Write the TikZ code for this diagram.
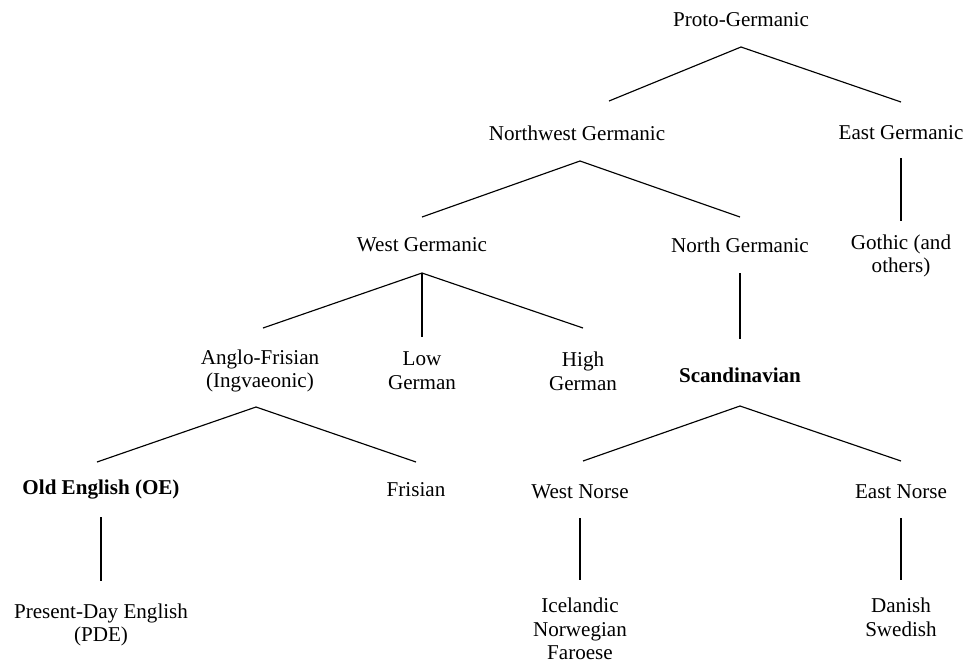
\documentclass[tikz,border=0pt]{standalone}
\usepackage{fontspec}
\setmainfont{Liberation Serif}
\usepackage{tikz}
\usetikzlibrary{positioning}

\begin{document}
\begin{tikzpicture}[font=\fontsize{12}{13.5}\selectfont, line width=0.65pt,
                    lang/.style={align=center, inner sep=1pt}]
      \useasboundingbox (0, 0) rectangle (19.28, -13.24);

      \node[lang]  (PG)  at (14.82,  -0.40)   {Proto-Germanic};

      \node[lang]  (NWG) at (11.54,  -2.66)   {Northwest Germanic};
      \node[lang]  (EG)  at (18.02,  -2.66)   {East Germanic};

      \node[lang]  (WG)  at ( 8.44,  -4.90)   {West Germanic};
      \node[lang]  (NG)  at (14.80,  -4.90)   {North Germanic};
      \node[lang]  (GO)  at (18.02,  -5.12)   {Gothic (and \\ others)};

      \node[lang]  (AF)  at ( 5.20,  -7.42)   {Anglo-Frisian \\ (Ingvaeonic)};
      \node[lang]  (LG)  at ( 8.44,  -7.42)   {Low \\ German};
      \node[lang]  (HG)  at (11.66,  -7.42)   {High \\ German};
      \node[lang]  (SC)  at (14.80,  -7.50)   {\textbf{Scandinavian}};

      \node[lang]  (OE)  at ( 2.02,  -9.80)   {\textbf{Old English (OE)}};
      \node[lang]  (FR)  at ( 8.32,  -9.80)   {Frisian};
      \node[lang]  (WN)  at (11.60,  -9.84)   {West Norse};
      \node[lang]  (EN)  at (18.02,  -9.84)   {East Norse};

      \node[lang]  (PDE) at ( 2.02, -12.50)   {Present-Day English \\ (PDE)};
      \node[lang]  (ICE) at (11.60, -12.58)   {Icelandic \\ Norwegian \\ Faroese};
      \node[lang]  (DS)  at (18.02, -12.34)   {Danish \\ Swedish};

      \draw[-]  ([yshift=-0.54cm]PG.center)  -- ([xshift=0.64cm, yshift=0.64cm]NWG.center);
      \draw[-]  ([yshift=-0.54cm]PG.center)  -- ([yshift=0.62cm]EG.center);

      \draw[-]  ([xshift=0.06cm, yshift=-0.56cm]NWG.center) -- ([yshift=0.56cm]WG.center);
      \draw[-]  ([xshift=0.06cm, yshift=-0.56cm]NWG.center) -- ([yshift=0.56cm]NG.center);
      \draw[-]  ([yshift=-0.50cm]EG.center)  -- ([yshift=0.70cm]GO.center);

      \draw[-]  ([yshift=-0.56cm]WG.center)  -- ([xshift=0.06cm, yshift=0.86cm]AF.center);
      \draw[-]  ([yshift=-0.56cm]WG.center)  -- ([yshift=0.68cm]LG.center);
      \draw[-]  ([yshift=-0.56cm]WG.center)  -- ([yshift=0.86cm]HG.center);
      \draw[-]  ([yshift=-0.56cm]NG.center)  -- ([yshift=0.72cm]SC.center);

      \draw[-]  ([xshift=-0.08cm, yshift=-0.72cm]AF.center) -- ([xshift=-0.08cm, yshift=0.56cm]OE.center);
      \draw[-]  ([xshift=-0.08cm, yshift=-0.72cm]AF.center) -- ([yshift=0.56cm]FR.center);
      \draw[-]  ([yshift=-0.62cm]SC.center)  -- ([xshift=0.06cm, yshift=0.62cm]WN.center);
      \draw[-]  ([yshift=-0.62cm]SC.center)  -- ([yshift=0.62cm]EN.center);

      \draw[-]  ([yshift=-0.54cm]OE.center)  -- ([yshift=0.88cm]PDE.center);
      \draw[-]  ([yshift=-0.52cm]WN.center)  -- ([yshift=0.98cm]ICE.center);
      \draw[-]  ([yshift=-0.52cm]EN.center)  -- ([yshift=0.74cm]DS.center);
    \end{tikzpicture}
\end{document}
